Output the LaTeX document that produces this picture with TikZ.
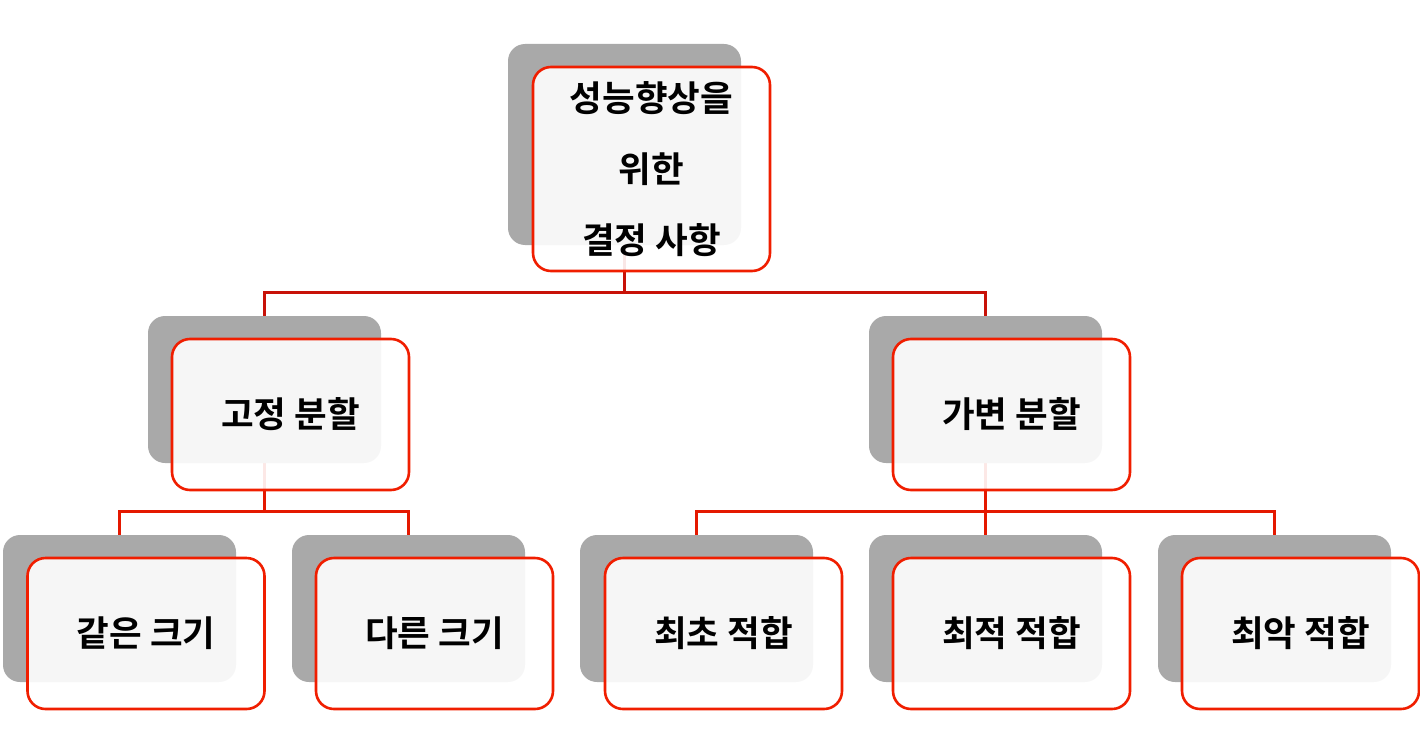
\documentclass[tikz,border=0pt]{standalone}
\usepackage{fontspec}
\newfontfamily\kr{Noto Sans CJK KR Bold}
\usetikzlibrary{positioning}
\definecolor{shade}{HTML}{A9A9A9}
\definecolor{boxred}{HTML}{F01E00}
\definecolor{topline}{HTML}{C81208}
\definecolor{lowline}{HTML}{E41800}
\pgfdeclarelayer{lines}
\pgfdeclarelayer{grayl}
\pgfsetlayers{lines,grayl,main}
\tikzset{
  back/.style={rectangle, rounded corners=17pt, fill=shade, draw=none, inner sep=0pt},
  backbig/.style={back, minimum width=233pt, minimum height=201pt},
  backsm/.style={back, minimum width=233pt, minimum height=147pt},
  front/.style={rectangle, rounded corners=18pt, draw=boxred, line width=2.6pt, fill=white, fill opacity=0.9, text opacity=1, inner sep=0pt, font=\kr\fontsize{35.5}{71}\selectfont, align=center},
  frontbig/.style={front, minimum width=237pt, minimum height=204pt},
  frontsm/.style={front, minimum width=237pt, minimum height=151pt},
  conn/.style={line width=3pt},
}
\begin{document}
\begin{tikzpicture}[x=1pt,y=-1pt]
\useasboundingbox (0,0) rectangle (1420,749);
\begin{pgfonlayer}{grayl}
\node[backbig] (g0) at (624.5,144.5) {};
\node[backsm] (gL) at (264.5,389.5) {};
\node[backsm] (gR) at (985.5,389.5) {};
\node[backsm] (g1) at (119.5,608.5) {};
\node[backsm] (g2) at (408.5,608.5) {};
\node[backsm] (g3) at (696.5,608.5) {};
\node[backsm] (g4) at (985.5,608.5) {};
\node[backsm] (g5) at (1274.5,608.5) {};
\end{pgfonlayer}
\coordinate (bus0) at (624.5,292);
\coordinate (bus1) at (264.5,511);
\coordinate (bus2) at (985.5,511);
\begin{pgfonlayer}{lines}
\draw[conn, topline] (g0.center) -- (bus0);
\draw[conn, topline] (gL.north) |- (bus0);
\draw[conn, topline] (gR.north) |- (bus0);
\draw[conn, lowline] (gL.center) -- (bus1);
\draw[conn, lowline] (g1.north) |- (bus1);
\draw[conn, lowline] (g2.north) |- (bus1);
\draw[conn, lowline] (gR.center) -- (g4.north);
\draw[conn, lowline] (g3.north) |- (bus2);
\draw[conn, lowline] (g5.north) |- (bus2);
\end{pgfonlayer}
\node[frontbig] (r0) at (651.5,169) {성능향상을\\위한\\결정 사항};
\node[frontsm] (rL) at (290.5,414.5) {고정 분할};
\node[frontsm] (rR) at (1011.5,414.5) {가변 분할};
\node[frontsm] (r1) at (146,633.5) {같은 크기};
\node[frontsm] (r2) at (434.5,633.5) {다른 크기};
\node[frontsm] (r3) at (723.5,633.5) {최초 적합};
\node[frontsm] (r4) at (1011.5,633.5) {최적 적합};
\node[frontsm] (r5) at (1300.5,633.5) {최악 적합};
\end{tikzpicture}
\end{document}
